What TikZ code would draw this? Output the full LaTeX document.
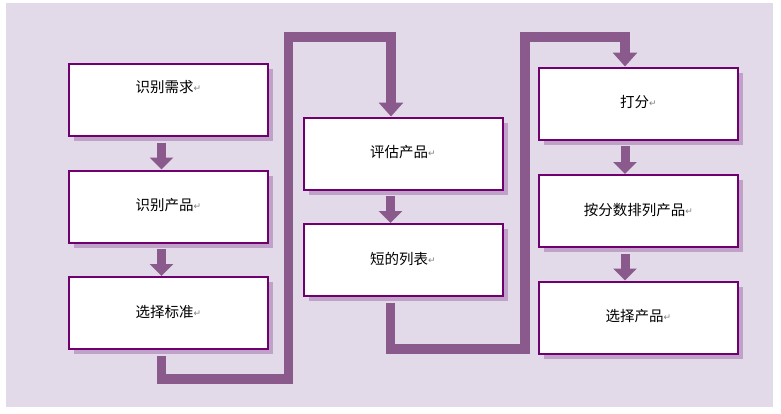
\documentclass[tikz,border=0pt]{standalone}
\usepackage{fontspec}
\newfontfamily\cjk{Noto Sans CJK SC}
\newfontfamily\symf{DejaVu Sans}
\usetikzlibrary{arrows.meta,shadows}
\definecolor{bgc}{RGB}{226,218,232}
\definecolor{connc}{RGB}{139,90,140}
\definecolor{borderc}{RGB}{112,0,112}
\definecolor{shadowc}{RGB}{192,162,200}
\newcommand{\pmark}{{\symf\fontsize{9}{9}\selectfont\color{gray}\raisebox{1pt}{↵}}}
\tikzset{
  box/.style={draw=borderc, line width=2pt, fill=white,
    minimum width=199pt, minimum height=72pt, inner sep=0pt,
    text height=10pt, text depth=2pt,
    font=\cjk\fontsize{14.5}{14.5}\selectfont,
    drop shadow={shadow xshift=5pt, shadow yshift=-5pt, fill=shadowc, opacity=1, draw=none}},
  smallarrow/.style={draw=connc, line width=9pt,
    -{Triangle[width=23pt,length=12pt]}},
  bigconn/.style={draw=connc, line width=9.5pt, line join=miter,
    -{Triangle[width=24pt,length=14pt]}}
}
\begin{document}
\begin{tikzpicture}[x=1pt,y=-1pt]
\useasboundingbox (0,0) rectangle (781,413);
\fill[bgc] (6,3) rectangle (773,407);
% column 1
\node[box, text depth=26pt] (b1) at (168.5,100) {识别需求\pmark};
\node[box] (b2) at (168.5,206.5) {识别产品\pmark};
\node[box] (b3) at (168.5,313) {选择标准\pmark};
% column 2
\node[box] (c1) at (403,153.5) {评估产品\pmark};
\node[box] (c2) at (403,260) {短的列表\pmark};
% column 3
\node[box] (d1) at (638.5,103.5) {打分\pmark};
\node[box] (d2) at (638.5,211) {按分数排列产品\pmark};
\node[box] (d3) at (638.5,317.5) {选择产品\pmark};
% small arrows
\draw[smallarrow] ([xshift=-7pt,yshift=-5.5pt]b1.south) -- ([xshift=-7pt]b2.north);
\draw[smallarrow] ([xshift=-7pt,yshift=-5.5pt]b2.south) -- ([xshift=-7pt]b3.north);
\draw[smallarrow] ([xshift=-12.5pt,yshift=-5.5pt]c1.south) -- ([xshift=-12.5pt]c2.north);
\draw[smallarrow] ([xshift=-13.5pt,yshift=-5.5pt]d1.south) -- ([xshift=-13.5pt]d2.north);
\draw[smallarrow] ([xshift=-13.5pt,yshift=-5.5pt]d2.south) -- ([xshift=-13.5pt]d3.north);
% big connectors
\coordinate (k1) at (288.5,379);
\coordinate (k2) at (391,37);
\draw[bigconn] ([xshift=-7pt,yshift=-5.5pt]b3.south) |- (k1) |- (k2) -- ([xshift=-12pt]c1.north);
\coordinate (k3) at (525,349);
\coordinate (k4) at (625,37);
\draw[bigconn] ([xshift=-12.5pt,yshift=-5.5pt]c2.south) |- (k3) |- (k4) -- ([xshift=-13.5pt]d1.north);
\end{tikzpicture}
\end{document}
